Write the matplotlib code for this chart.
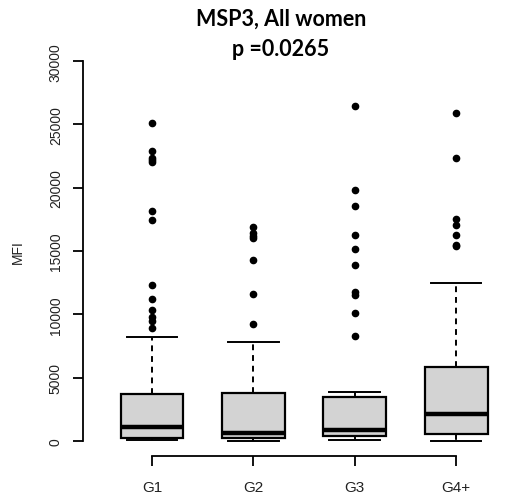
import matplotlib
matplotlib.use('Agg')
import matplotlib.pyplot as plt

groups = ['G1', 'G2', 'G3', 'G4+']

# box summary per group (MFI)
q1 = [240, 210, 420, 550]
medians = [1080, 630, 900, 2130]
q3 = [3710, 3790, 3500, 5820]
whisker_low = [60, 25, 80, 25]
whisker_high = [8230, 7790, 3890, 12500]

outliers_g1 = [25080, 22870, 22340, 22180, 22000, 18130, 17470, 12330, 11210, 10370, 9760, 9500, 8900]
outliers_g2 = [16900, 16420, 16210, 16050, 14290, 11650, 9240]
outliers_g3 = [26470, 19820, 18550, 16260, 15130, 13870, 11740, 11500, 10080, 8310]
outliers_g4 = [25920, 22340, 17530, 17050, 16260, 15470, 15370]
outliers = [outliers_g1, outliers_g2, outliers_g3, outliers_g4]

y_ticks = [0, 5000, 10000, 15000, 20000, 25000, 30000]

W, H = 527, 502
fig = plt.figure(figsize=(W / 100, H / 100), dpi=100)
ax = fig.add_axes([83 / W, (H - 457.2) / H, (523 - 83) / W, (457.2 - 47) / H])

stats = []
for i, g in enumerate(groups):
    stats.append({
        'label': g, 'q1': q1[i], 'med': medians[i], 'q3': q3[i],
        'whislo': whisker_low[i], 'whishi': whisker_high[i],
        'fliers': outliers[i],
    })

ax.bxp(stats, positions=[1, 2, 3, 4], widths=0.62, capwidths=0.5,
       patch_artist=True,
       boxprops=dict(facecolor='#d3d3d3', edgecolor='black', linewidth=1.6),
       medianprops=dict(color='black', linewidth=3.2, solid_capstyle='butt'),
       whiskerprops=dict(color='black', linewidth=1.4, linestyle=(0, (3, 2.5))),
       capprops=dict(color='black', linewidth=1.4),
       flierprops=dict(marker='o', markerfacecolor='black', markeredgecolor='black',
                       markersize=4.5, linestyle='none'))

ax.set_xlim(0.32, 4.66)
ax.set_ylim(-1200, 31200)

# R-style detached axes
for s in ['top', 'right']:
    ax.spines[s].set_visible(False)
ax.spines['left'].set_bounds(0, 30000)
ax.spines['bottom'].set_bounds(1, 4)
ax.spines['left'].set_linewidth(1.3)
ax.spines['bottom'].set_linewidth(1.3)

ax.set_yticks(y_ticks)
ax.set_yticklabels([str(v) for v in y_ticks], rotation=90, va='center',
                   fontsize=10, family='Liberation Sans', color='#222222')
ax.set_xticks([1, 2, 3, 4])
ax.set_xticklabels(groups, fontsize=11, family='Liberation Sans', color='#222222')
ax.tick_params(axis='both', length=7, width=1.3)
ax.tick_params(axis='y', pad=7.5)
ax.tick_params(axis='x', pad=10)

fig.text(18 / W, 1 - 252 / H, 'MFI', rotation=90, ha='center', va='center',
         fontsize=10, family='Liberation Sans', color='#222222')

fig.text(281 / W, 1 - 19 / H, 'MSP3, All women', ha='center', va='center',
         fontsize=15.5, fontweight='bold', family='Lato')
fig.text(281 / W, 1 - 49 / H, 'p =0.0265', ha='center', va='center',
         fontsize=15.5, fontweight='bold', family='Lato')

fig.savefig('out.png', dpi=100)
